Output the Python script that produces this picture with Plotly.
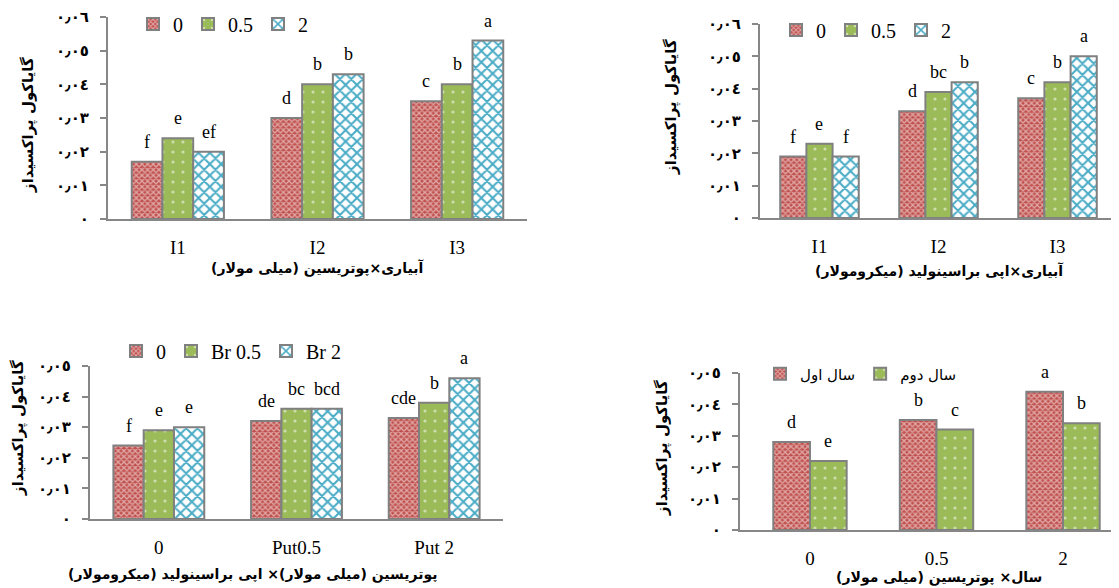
import plotly.graph_objects as go

# ---------------- data ----------------
cats1 = ["I1", "I2", "I3"]
c1_0 = [0.017, 0.030, 0.035]
c1_05 = [0.024, 0.040, 0.040]
c1_2 = [0.020, 0.043, 0.053]
l1_0 = ["f", "d", "c"]
l1_05 = ["e", "b", "b"]
l1_2 = ["ef", "b", "a"]

cats2 = ["I1", "I2", "I3"]
c2_0 = [0.019, 0.033, 0.037]
c2_05 = [0.023, 0.039, 0.042]
c2_2 = [0.019, 0.042, 0.050]
l2_0 = ["f", "d", "c"]
l2_05 = ["e", "bc", "b"]
l2_2 = ["f", "b", "a"]

cats3 = ["0", "Put0.5", "Put 2"]
c3_0 = [0.024, 0.032, 0.033]
c3_05 = [0.029, 0.036, 0.038]
c3_2 = [0.030, 0.036, 0.046]
l3_0 = ["f", "de", "cde"]
l3_05 = ["e", "bc", "b"]
l3_2 = ["e", "bcd", "a"]

cats4 = ["0", "0.5", "2"]
c4_y1 = [0.028, 0.035, 0.044]
c4_y2 = [0.022, 0.032, 0.034]
l4_y1 = ["d", "b", "a"]
l4_y2 = ["e", "c", "b"]

names123 = ["0", "0.5", "2"]
names3 = ["0", "Br 0.5", "Br 2"]
names4 = ["سال اول", "سال دوم"]

ytick6_vals = [0, 0.01, 0.02, 0.03, 0.04, 0.05, 0.06]
ytick6_text = ["٠", "٠٫٠١", "٠٫٠٢", "٠٫٠٣", "٠٫٠٤", "٠٫٠٥", "٠٫٠٦"]
ytick5_vals = [0, 0.01, 0.02, 0.03, 0.04, 0.05]
ytick5_text = ["٠", "٠٫٠١", "٠٫٠٢", "٠٫٠٣", "٠٫٠٤", "٠٫٠٥"]

ytitle = "گایاکول پراکسیداز"
xtitles = ["آبیاری×پوتریسین (میلی مولار)",
           "آبیاری×اپی براسینولید (میکرومولار)",
           "پوتریسین (میلی مولار)× اپی براسینولید (میکرومولار)",
           "سال× پوتریسین (میلی مولار)"]

# ---------------- styles ----------------
RED = "#c0504d"
GREEN = "#9bbb59"
BLUE = "#4bacc6"
EDGE = "#808080"
AX = "#878787"
SERIF = "Liberation Serif, Times New Roman, serif"
ARAB = "DejaVu Sans, Noto Sans, sans-serif"

styles = [
    dict(color=RED, pattern=dict(shape="x", fgcolor="white", size=4, solidity=0.55, fillmode="overlay")),
    dict(color=GREEN, pattern=dict(shape=".", fgcolor="white", size=10, solidity=0.08, fillmode="overlay")),
    dict(color=BLUE, pattern=dict(shape="x", bgcolor="white", size=8, solidity=0.45, fillmode="replace")),
]

fig = go.Figure()
annotations = []

W3 = 0.22
offs3 = [-1.5 * W3, -0.5 * W3, 0.5 * W3]
W2 = 0.29
offs2 = [-W2, 0.0]


def add_group(cats, series, letters, names, xa, ya, legend, width, offsets):
    for k, (vals, labs, nm) in enumerate(zip(series, letters, names)):
        st = styles[k]
        fig.add_trace(go.Bar(
            x=cats, y=vals, name=nm, width=width, offset=offsets[k],
            marker=dict(color=st["color"], pattern=st["pattern"],
                        line=dict(color=EDGE, width=2)),
            xaxis=xa, yaxis=ya, legend=legend, showlegend=True,
        ))
        for i, (v, t) in enumerate(zip(vals, labs)):
            annotations.append(dict(
                x=i + offsets[k] + width / 2, y=v, xref=xa, yref=ya,
                text=t, showarrow=False, xanchor="center", yanchor="bottom", yshift=8,
                font=dict(family=SERIF, size=18, color="black")))


add_group(cats1, [c1_0, c1_05, c1_2], [l1_0, l1_05, l1_2], names123, "x", "y", "legend", W3, offs3)
add_group(cats2, [c2_0, c2_05, c2_2], [l2_0, l2_05, l2_2], names123, "x2", "y2", "legend2", W3, offs3)
add_group(cats3, [c3_0, c3_05, c3_2], [l3_0, l3_05, l3_2], names3, "x3", "y3", "legend3", W3, offs3)
add_group(cats4, [c4_y1, c4_y2], [l4_y1, l4_y2], names4, "x4", "y4", "legend4", W2, offs2)

# page places the figure 8px from the top-left corner
OX, OY = 8, 8
PW, PH = 1111, 580


def fx(px):
    return (px - OX) / PW


def fy(py):
    return 1 - (py - OY) / PH


def px_x(a, b):
    return [fx(a), fx(b)]


def px_y(top, bottom):
    return [fy(bottom), fy(top)]


xcommon = dict(type="category", showline=True, linecolor=AX, linewidth=2,
               ticks="", showgrid=False, zeroline=False, automargin=False,
               tickfont=dict(family=SERIF, size=19, color="black"),
               ticklabelstandoff=10)
ycommon = dict(showline=True, linecolor=AX, linewidth=2, ticks="outside",
               ticklen=6, tickcolor=AX, tickwidth=2, showgrid=False, zeroline=False,
               automargin=False,
               tickfont=dict(family=ARAB, size=15, color="black", weight="bold"),
               ticklabelstandoff=8)

layout = dict(
    width=PW, height=PH, margin=dict(l=0, r=0, t=0, b=0, autoexpand=False),
    paper_bgcolor="white", plot_bgcolor="white", barmode="overlay",
    xaxis=dict(domain=px_x(108, 527), anchor="y", range=[-0.5, 2.5], **xcommon),
    yaxis=dict(domain=px_y(17, 219), anchor="x", range=[0, 0.06],
               tickvals=ytick6_vals, ticktext=ytick6_text, **ycommon),
    xaxis2=dict(domain=px_x(760, 1117), anchor="y2", range=[-0.5, 2.5], **xcommon),
    yaxis2=dict(domain=px_y(24, 218), anchor="x2", range=[0, 0.06],
                tickvals=ytick6_vals, ticktext=ytick6_text, **ycommon),
    xaxis3=dict(domain=px_x(90, 503), anchor="y3", range=[-0.5, 2.5], **xcommon),
    yaxis3=dict(domain=px_y(366, 519), anchor="x3", range=[0, 0.05],
                tickvals=ytick5_vals, ticktext=ytick5_text, **ycommon),
    xaxis4=dict(domain=px_x(740, 1113), anchor="y4", range=[-0.553, 2.395], **xcommon),
    yaxis4=dict(domain=px_y(373, 530), anchor="x4", range=[0, 0.05],
                tickvals=ytick5_vals, ticktext=ytick5_text, **ycommon),
)

leg_common = dict(orientation="h", xanchor="left", yanchor="middle",
                  bgcolor="rgba(0,0,0,0)", font=dict(family=SERIF, size=20, color="black"))
layout["legend"] = dict(x=fx(133), y=fy(24), **leg_common)
layout["legend2"] = dict(x=fx(776), y=fy(30), **leg_common)
layout["legend3"] = dict(x=fx(116), y=fy(351), **leg_common)
layout["legend4"] = dict(x=fx(760), y=fy(374), orientation="h", xanchor="left",
                         yanchor="middle", bgcolor="rgba(0,0,0,0)",
                         font=dict(family=ARAB, size=15, color="black"))

# axis titles as annotations
ytitle_pos = [(28, 125), (672, 107), (18, 428), (662, 448)]
for (xp, yp) in ytitle_pos:
    annotations.append(dict(x=fx(xp), y=fy(yp), xref="paper", yref="paper",
                            xanchor="center", yanchor="middle",
                            text=ytitle, textangle=-90, showarrow=False,
                            font=dict(family=ARAB, size=15, color="black", weight="bold")))
xtitle_pos = [(317, 268), (939, 271), (253, 574), (939, 577)]
for t, (xp, yp) in zip(xtitles, xtitle_pos):
    annotations.append(dict(x=fx(xp), y=fy(yp), xref="paper", yref="paper",
                            xanchor="center", yanchor="middle",
                            text=t, showarrow=False,
                            font=dict(family=ARAB, size=14, color="black", weight="bold")))

layout["annotations"] = annotations
fig.update_layout(**layout)
fig.write_html("out.html")
